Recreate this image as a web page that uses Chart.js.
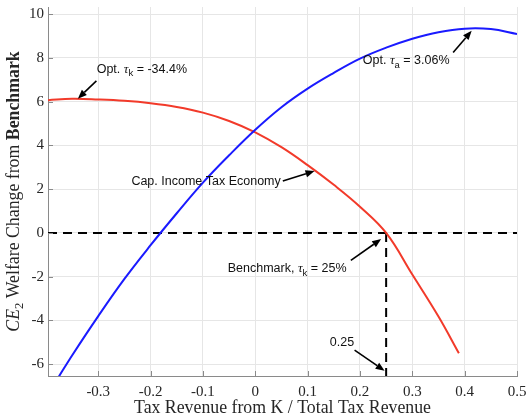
<!DOCTYPE html>
<html><head><meta charset="utf-8">
<script src="https://cdn.jsdelivr.net/npm/chart.js@4/dist/chart.umd.min.js"></script>
<style>html,body{margin:0;padding:0;background:#fff}</style>
</head><body><canvas id="c" width="526" height="416"></canvas>
<script>
// ---- data ----
const capTaxX = [-0.396, -0.35, -0.3, -0.25, -0.2, -0.15, -0.1, -0.05, 0, 0.05, 0.1, 0.15, 0.2, 0.25, 0.3, 0.35, 0.389];
const capTaxY = [6.07, 6.13, 6.1, 6.04, 5.93, 5.76, 5.5, 5.12, 4.6, 3.92, 3.1, 2.2, 1.2, 0, -1.9, -3.82, -5.5];
const wealthTaxX = [-0.38, -0.35, -0.3, -0.25, -0.2, -0.15, -0.1, -0.05, 0, 0.05, 0.1, 0.15, 0.2, 0.25, 0.3, 0.35, 0.4, 0.45, 0.5];
const wealthTaxY = [-6.75, -5.6, -3.8, -2.1, -0.56, 0.9, 2.3, 3.55, 4.72, 5.75, 6.6, 7.32, 7.97, 8.47, 8.88, 9.18, 9.34, 9.32, 9.1];
const benchmarkShare = 0.25;
const benchmarkWelfare = 0;
const xTickValues = [-0.3, -0.2, -0.1, 0, 0.1, 0.2, 0.3, 0.4, 0.5];
const xTickLabels = ['-0.3', '-0.2', '-0.1', '0', '0.1', '0.2', '0.3', '0.4', '0.5'];
const yTickValues = [-6, -4, -2, 0, 2, 4, 6, 8, 10];
const yTickLabels = ['-6', '-4', '-2', '0', '2', '4', '6', '8', '10'];
const xRange = [-0.396, 0.5];
const yRange = [-6.54, 10.33];
const xTitle = 'Tax Revenue from K / Total Tax Revenue';
const yTitleParts = [['CE', 'it'], ['2', 'sub'], [' Welfare Change from ', 'rm'], ['Benchmark', 'bf']];

// annotations: text parts, text anchor (left, middle) and arrow in data units
const annotations = [
  {parts: [['Opt. ', 's'], ['τ', 'g'], ['k', 'sub'], [' = -34.4%', 's']], at: [-0.303, 7.48], from: [-0.3035, 6.95], to: [-0.339, 6.14]},
  {parts: [['Opt. ', 's'], ['τ', 'g'], ['a', 'sub'], [' = 3.06%', 's']], at: [0.2055, 7.86], from: [0.378, 8.25], to: [0.4134, 9.24]},
  {parts: [['Cap. Income Tax Economy', 's']], at: [-0.2367, 2.37], from: [0.0526, 2.37], to: [0.1132, 2.83]},
  {parts: [['Benchmark, ', 's'], ['τ', 'g'], ['k', 'sub'], [' = 25%', 's']], at: [-0.0526, -1.65], from: [0.1826, -1.25], to: [0.2405, -0.28]},
  {parts: [['0.25', 's']], at: [0.1424, -5.0], from: [0.1897, -5.36], to: [0.247, -6.3]}
];

const toXY = (xs, ys) => xs.map((x, i) => ({x: x, y: ys[i]}));
const AXIS = '#8a8a8a';
const TXT = '#262626';
const SERIF = '"Liberation Serif", "DejaVu Serif", serif';
const SANS = '"Liberation Sans", Arial, sans-serif';

const fonts = {
  s: '12.5px ' + SANS, sub: '9.5px ' + SANS, g: 'italic 13px ' + SERIF
};

function drawParts(ctx, parts, fontMap, x, y, subDy) {
  let cx = x;
  parts.forEach(([t, k]) => {
    ctx.font = fontMap[k];
    ctx.fillText(t, cx, y + (k === 'sub' ? subDy : 0));
    cx += ctx.measureText(t).width;
  });
  return cx;
}
function partsWidth(ctx, parts, fontMap) {
  let w = 0;
  parts.forEach(([t, k]) => { ctx.font = fontMap[k]; w += ctx.measureText(t).width; });
  return w;
}
function arrow(ctx, x1, y1, x2, y2) {
  const a = Math.atan2(y2 - y1, x2 - x1), L = 9, H = 3.6;
  const bx = x2 - L * Math.cos(a), by = y2 - L * Math.sin(a);
  ctx.beginPath(); ctx.moveTo(x1, y1); ctx.lineTo(bx, by); ctx.stroke();
  ctx.beginPath();
  ctx.moveTo(x2, y2);
  ctx.lineTo(bx + H * Math.sin(a), by - H * Math.cos(a));
  ctx.lineTo(bx - H * Math.sin(a), by + H * Math.cos(a));
  ctx.closePath(); ctx.fill();
}

const overlay = {
  id: 'overlay',
  afterDraw(chart) {
    const ctx = chart.ctx, xs = chart.scales.x, ys = chart.scales.y, ca = chart.chartArea;
    ctx.save();
    // inward tick marks
    ctx.strokeStyle = AXIS; ctx.lineWidth = 1;
    xTickValues.forEach(v => { const p = Math.round(xs.getPixelForValue(v)) + 0.5; ctx.beginPath(); ctx.moveTo(p, ca.bottom); ctx.lineTo(p, ca.bottom - 5); ctx.stroke(); });
    yTickValues.forEach(v => { const p = Math.round(ys.getPixelForValue(v)) + 0.5; ctx.beginPath(); ctx.moveTo(ca.left, p); ctx.lineTo(ca.left + 5, p); ctx.stroke(); });
    // annotations
    ctx.fillStyle = '#000'; ctx.strokeStyle = '#000'; ctx.lineWidth = 1.6;
    ctx.textBaseline = 'middle'; ctx.textAlign = 'left';
    annotations.forEach(an => {
      ctx.fillStyle = '#111';
      drawParts(ctx, an.parts, fonts, xs.getPixelForValue(an.at[0]), ys.getPixelForValue(an.at[1]), 4);
      ctx.fillStyle = '#000';
      arrow(ctx, xs.getPixelForValue(an.from[0]), ys.getPixelForValue(an.from[1]), xs.getPixelForValue(an.to[0]), ys.getPixelForValue(an.to[1]));
    });
    // x title
    ctx.fillStyle = TXT;
    ctx.font = '17.8px ' + SERIF; ctx.textAlign = 'center'; ctx.textBaseline = 'alphabetic';
    ctx.fillText(xTitle, (ca.left + ca.right) / 2, 413);
    // y title
    const tf = {it: 'italic 17.8px ' + SERIF, sub: '12.5px ' + SERIF, rm: '17.8px ' + SERIF, bf: 'bold 17.8px ' + SERIF};
    ctx.textAlign = 'left'; ctx.textBaseline = 'alphabetic';
    ctx.translate(19, (ca.top + ca.bottom) / 2);
    ctx.rotate(-Math.PI / 2);
    const w = partsWidth(ctx, yTitleParts, tf);
    drawParts(ctx, yTitleParts, tf, -w / 2, 0, 3.8);
    ctx.restore();
  }
};

new Chart(document.getElementById('c'), {
  type: 'line',
  data: {
    datasets: [
      {data: toXY(wealthTaxX, wealthTaxY), borderColor: '#1a1aff', borderWidth: 2, pointRadius: 0, tension: 0.4},
      {data: toXY(capTaxX, capTaxY), borderColor: '#f23a2a', borderWidth: 2, pointRadius: 0, tension: 0.4},
      {data: [{x: xRange[0], y: benchmarkWelfare}, {x: xRange[1], y: benchmarkWelfare}], borderColor: '#000', borderWidth: 2, borderDash: [9, 6], pointRadius: 0},
      {data: [{x: benchmarkShare, y: benchmarkWelfare}, {x: benchmarkShare, y: yRange[0]}], borderColor: '#000', borderWidth: 2, borderDash: [9, 6], pointRadius: 0}
    ]
  },
  options: {
    responsive: false, animation: false, devicePixelRatio: 1,
    layout: {padding: {top: 7, right: 9, left: 0, bottom: 0}},
    plugins: {legend: {display: false}, tooltip: {enabled: false}},
    scales: {
      x: {
        type: 'linear', min: xRange[0], max: xRange[1],
        afterBuildTicks: s => { s.ticks = xTickValues.map(v => ({value: v})); },
        afterFit: s => { s.height = 40; s.paddingLeft = 0; s.paddingRight = 0; },
        ticks: {callback: (v, i) => xTickLabels[i], font: {family: SERIF, size: 15}, color: TXT, padding: 7, maxRotation: 0, autoSkip: false},
        grid: {color: '#e6e6e6', drawTicks: false},
        border: {color: AXIS, width: 1}
      },
      y: {
        type: 'linear', min: yRange[0], max: yRange[1],
        afterBuildTicks: s => { s.ticks = yTickValues.map(v => ({value: v})); },
        afterFit: s => { s.width = 48; s.paddingTop = 0; s.paddingBottom = 0; },
        ticks: {callback: (v, i) => yTickLabels[i], font: {family: SERIF, size: 15}, color: TXT, padding: 4, autoSkip: false},
        grid: {color: '#e6e6e6', drawTicks: false},
        border: {color: AXIS, width: 1}
      }
    }
  },
  plugins: [overlay]
});
</script></body></html>
